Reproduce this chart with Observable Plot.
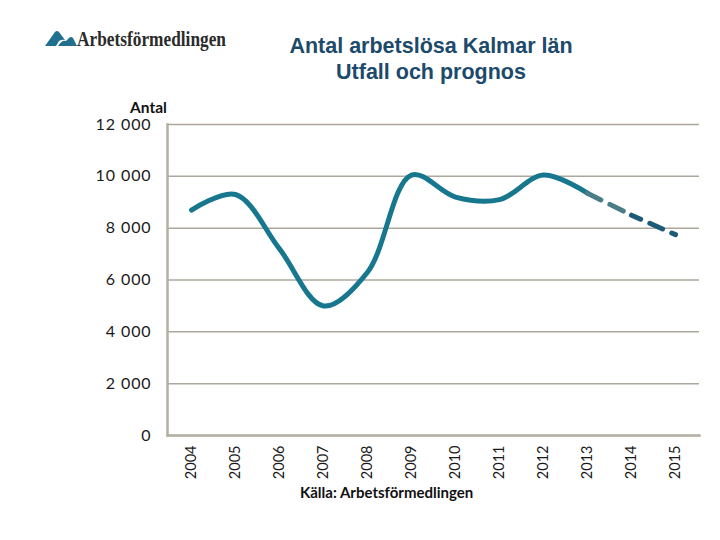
<!DOCTYPE html>
<html>
<head>
<meta charset="utf-8">
<script src="https://cdn.jsdelivr.net/npm/d3@7"></script>
<script src="https://cdn.jsdelivr.net/npm/@observablehq/plot@0.6"></script>
<style>
  body { margin: 0; background: #fff; }
  #wrap { position: relative; width: 720px; height: 540px; overflow: hidden; background: #fff; }
  #chart { position: absolute; left: 0; top: 0; }
  .abs { position: absolute; white-space: nowrap; }
  #title { left: 181px; width: 500px; top: 33px; text-align: center; font-family: "Liberation Sans", Arial, sans-serif; font-weight: bold; font-size: 21.5px; line-height: 26px; color: #1c4a6b; }
  #logo { left: 40px; top: 22px; overflow: visible; }
  #ylabel { left: 130px; top: 98px; font-family: Lato, sans-serif; font-weight: bold; font-size: 15.5px; color: #111; }
  #caption { left: 300px; top: 483px; font-family: Lato, sans-serif; font-weight: bold; font-size: 15px; color: #111; }
  .ytl text { letter-spacing: 0.9px; }
</style>
</head>
<body>
<div id="wrap">
  <div id="chart"></div>
  <svg id="logo" class="abs" width="260" height="34" viewBox="0 0 260 34">
    <path d="M5 24 L15 10 Q17 8 19 10 L25 18 Q22 17 19 19 L16 24 Z" fill="#1f6f8f"/>
    <path d="M18 24 Q22 18 26 19 L29 16 Q31 14 33 16 L37 24 Z" fill="#1f6f8f"/>
    <text x="37" y="24" font-family="Liberation Serif, DejaVu Serif, serif" font-size="22" font-weight="bold" fill="#2b2b2b" textLength="149" lengthAdjust="spacingAndGlyphs">Arbetsförmedlingen</text>
  </svg>
  <div id="title" class="abs">Antal arbetslösa Kalmar län<br>Utfall och prognos</div>
  <div id="ylabel" class="abs">Antal</div>
  <div id="caption" class="abs">Källa: Arbetsförmedlingen</div>
</div>
<script>
const years = ["2004","2005","2006","2007","2008","2009","2010","2011","2012","2013","2014","2015"];
const values = [8700, 9300, 7200, 5000, 6300, 10050, 9200, 9100, 10050, 9350, 8500, 7750];
const outcomeEnd = "2013";   // last outcome year; forecast after
const yTicks = [0, 2000, 4000, 6000, 8000, 10000, 12000];

const data = years.map((y, i) => ({year: y, value: values[i]}));
const endIdx = years.indexOf(outcomeEnd);
const outcome = data.slice(0, endIdx + 1);
const forecast = data.slice(endIdx);

const fmt = d => d3.format(",")(d).replace(/,/g, " ");

const plot = Plot.plot({
  width: 720,
  height: 540,
  marginLeft: 167,
  marginRight: 21,
  marginTop: 124,
  marginBottom: 105,
  style: {background: "transparent", fontFamily: "Lato, sans-serif", fontSize: "14px"},
  x: {type: "point", domain: years, padding: 0.5},
  y: {domain: [0, 12000], axis: null},
  marks: [
    Plot.gridY(yTicks, {stroke: "#aca89d", strokeOpacity: 1, strokeWidth: 1.5}),
    Plot.frame({anchor: "left", stroke: "#b3afa3", strokeWidth: 2.5}),
    Plot.frame({anchor: "bottom", stroke: "#b3afa3", strokeWidth: 2.5}),
    Plot.text(yTicks, {y: d => d, text: fmt, frameAnchor: "left", textAnchor: "end", dx: -16, fontSize: 16, fill: "#1a1a1a", fontFamily: "Lato, sans-serif", className: "ytl"}),
    Plot.axisX({tickSize: 0, tickPadding: 10, tickRotate: -90, fontSize: 14.5, fill: "#1a1a1a", label: null}),
    Plot.line(outcome, {x: "year", y: "value", stroke: "#17778f", strokeWidth: 5, curve: "catmull-rom"}),
    Plot.line(forecast.slice(0, 2), {x: "year", y: "value", stroke: "#4a7d87", strokeWidth: 5, strokeDasharray: "15,10", strokeLinecap: "round"}),
    Plot.line(forecast.slice(1), {x: "year", y: "value", stroke: "#1d5a78", strokeWidth: 5, strokeDasharray: "14,10", strokeDashoffset: 4, strokeLinecap: "round"})
  ]
});
document.getElementById("chart").appendChild(plot);
</script>
</body>
</html>
